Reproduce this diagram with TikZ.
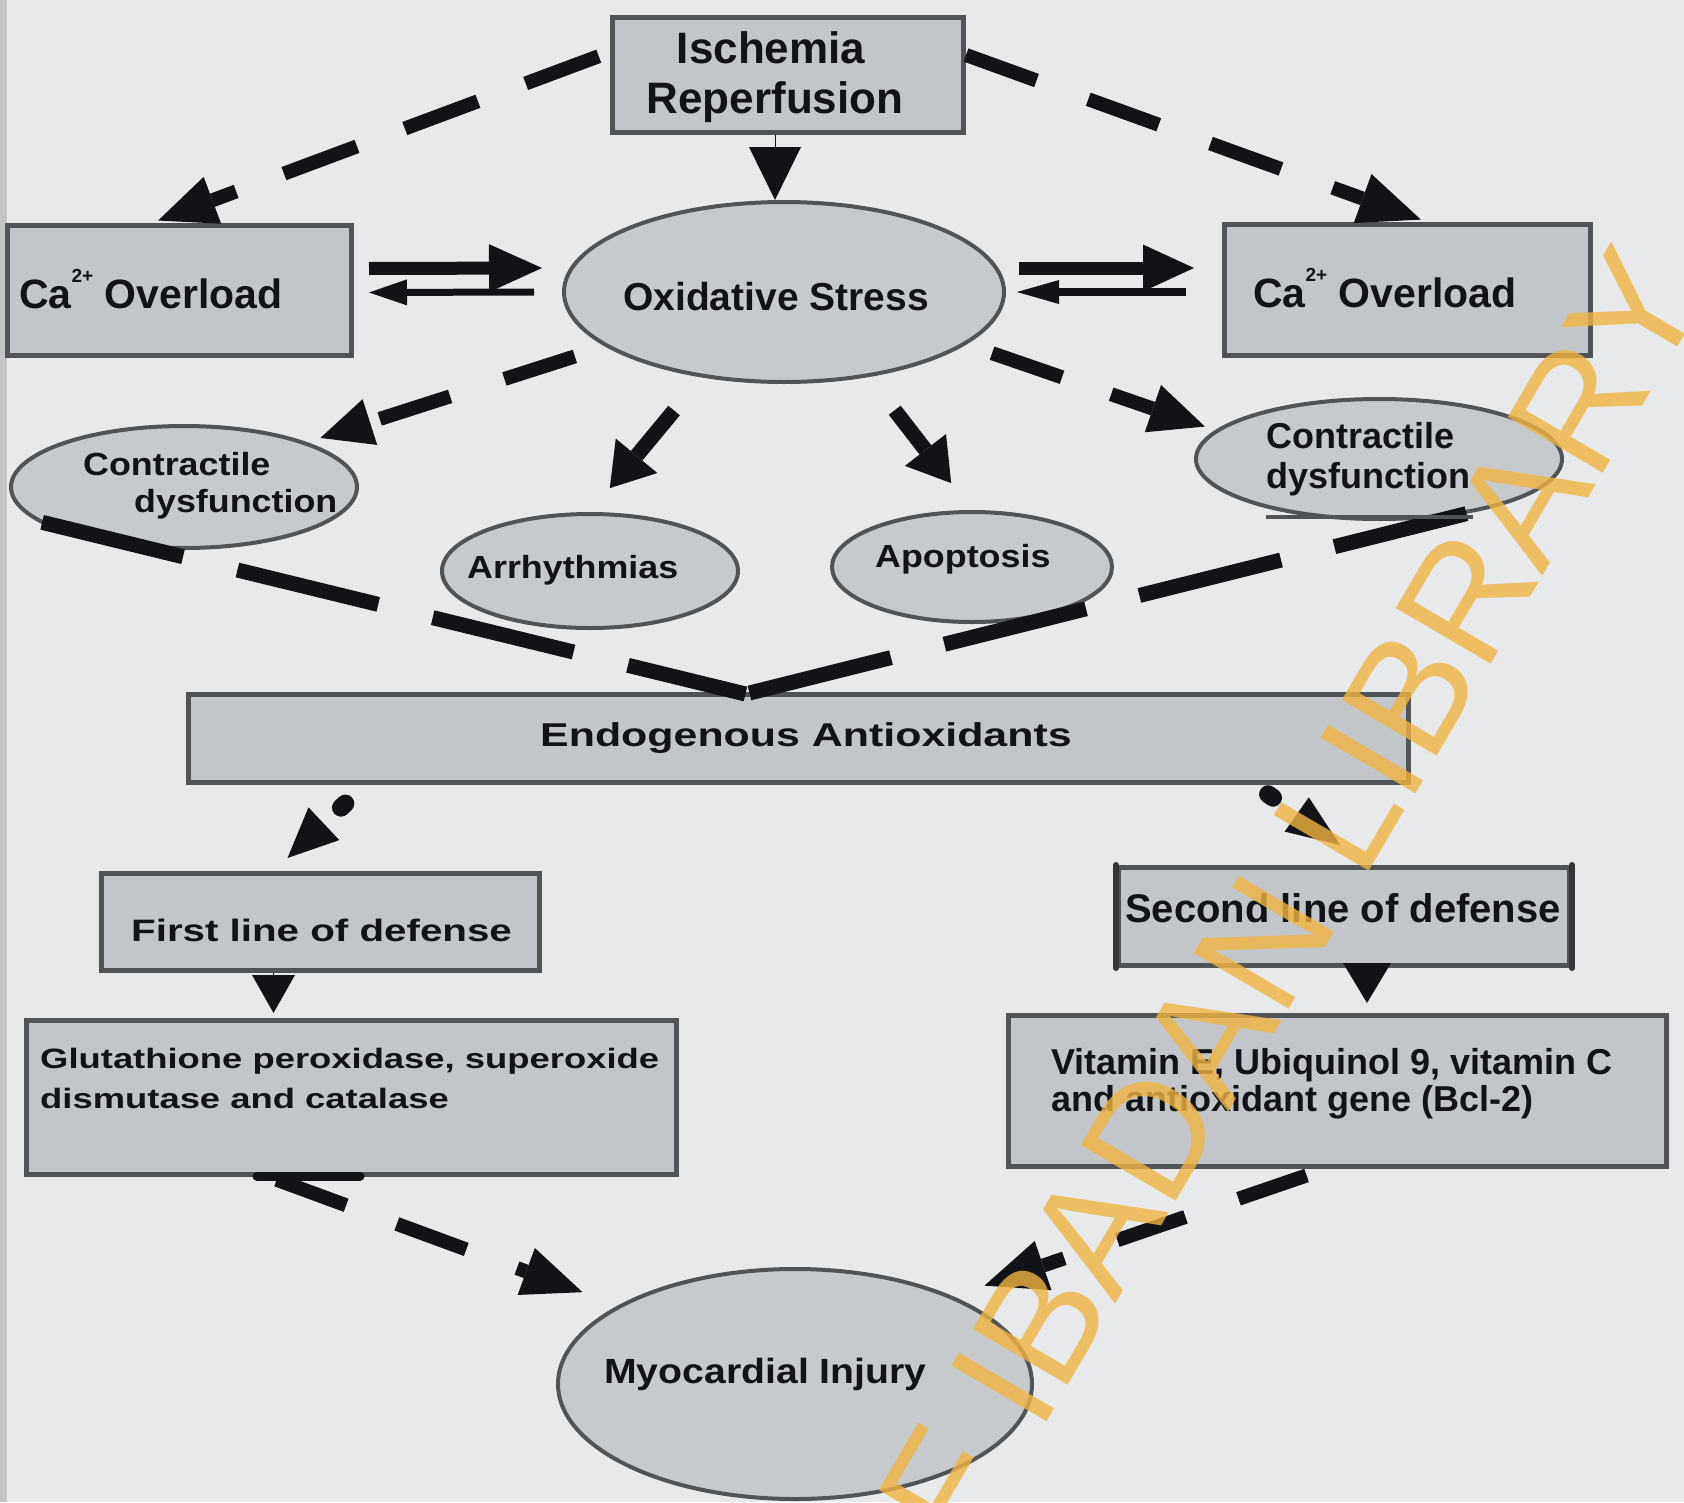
\documentclass[tikz,border=0pt]{standalone}
\usepackage{fontspec}
\setmainfont{Liberation Sans}
\newfontfamily\wideS{Liberation Sans}[FakeStretch=1.12]
\newfontfamily\wideL{Liberation Sans}[FakeStretch=1.3]
\usetikzlibrary{arrows.meta,calc,shapes.geometric}
\definecolor{bg}{HTML}{E7E9EA}
\definecolor{boxfill}{HTML}{C2C6CA}
\definecolor{ellfill}{HTML}{C7CACD}
\definecolor{edge}{HTML}{505457}
\definecolor{ink}{HTML}{111316}
\definecolor{wm}{HTML}{F0B440}
\definecolor{strip}{HTML}{C4C5C7}
\newcommand\fsz[2]{\fontsize{#1pt}{#2pt}\selectfont}
\newcommand\casup{\raisebox{0.62em}{\fontsize{19pt}{19pt}\selectfont 2+}}
\begin{document}
\begin{tikzpicture}[x=1pt,y=-1pt,
  box/.style={draw=edge,line width=5pt,fill=boxfill,rectangle,inner sep=0pt},
  ell/.style={draw=edge,line width=4pt,fill=ellfill,ellipse,inner sep=0pt},
  lbl/.style={text=ink,inner sep=0pt},
  dashA/.style={draw=ink,line width=14pt},
  solidA/.style={draw=ink,line width=15pt},
  vline/.style={draw=ink,line width=15pt},
  tri/.style={draw=ink,line width=1pt},
  dotA/.style={draw=ink,line width=18pt,line cap=round},
]
\useasboundingbox (0,0) rectangle (1684,1502);
\fill[bg] (0,0) rectangle (1684,1502);
\fill[strip] (0,0) rectangle (7,1502);

% ---------- nodes ----------
\node[box,minimum width=351pt,minimum height=115pt] (isch) at (788,75) {};
\node[ell,minimum width=440pt,minimum height=180pt] (ox) at (784,292) {};
\node[box,minimum width=344pt,minimum height=130pt] (lca) at (179.5,290.5) {};
\node[box,minimum width=366pt,minimum height=131pt] (rca) at (1407.5,290) {};
\node[ell,minimum width=346pt,minimum height=122pt] (lcd) at (184,487) {};
\node[ell,minimum width=366pt,minimum height=120pt] (rcd) at (1379,459) {};
\node[ell,minimum width=296pt,minimum height=114pt] (arr) at (590,571) {};
\node[ell,minimum width=280pt,minimum height=110pt] (apo) at (972,567) {};
\node[box,minimum width=1220pt,minimum height=88pt] (endo) at (798.5,738.5) {};
\node[box,minimum width=438pt,minimum height=97pt] (first) at (320.5,922) {};
\node[box,minimum width=451pt,minimum height=98pt] (second) at (1344,916.5) {};
\node[box,minimum width=650pt,minimum height=154pt] (glut) at (351.5,1097.5) {};
\node[box,minimum width=658pt,minimum height=151pt] (vit) at (1337.5,1091) {};
\node[ell,minimum width=474pt,minimum height=230pt] (myo) at (795,1384) {};

% darker sides of the second-line box
\draw[ink!85,line width=6pt,line cap=round] (second.north west) -- (second.south west);
\draw[ink!85,line width=6pt,line cap=round] (second.north east) -- (second.south east);

% ---------- texts ----------
\node[lbl,anchor=base,font=\bfseries\fsz{44}{49}] (isch1) at (771,63) {Ischemia};
\node[lbl,anchor=base,font=\bfseries\fsz{44}{49}] (isch2) at (775,113) {Reperfusion};
\node[lbl,anchor=base,font=\bfseries\fsz{39}{44}] (oxt) at (776,310) {Oxidative Stress};
\node[lbl,anchor=base west,font=\bfseries\fsz{41}{46}] (lcat) at (19,308) {Ca\casup\ Overload};
\node[lbl,anchor=base west,font=\bfseries\fsz{41}{46}] (rcat) at (1253,307) {Ca\casup\ Overload};
\node[lbl,anchor=base west,font=\wideS\bfseries\fsz{32}{36}] (lcd1) at (83,475) {Contractile};
\node[lbl,anchor=base west,font=\wideS\bfseries\fsz{32}{36}] (lcd2) at (134,512) {dysfunction};
\node[lbl,anchor=base west,font=\bfseries\fsz{36}{40}] (rcd1) at (1266,448) {Contractile};
\node[lbl,anchor=base west,font=\bfseries\fsz{36}{40}] (rcd2) at (1266,488) {dysfunction};
\node[lbl,anchor=base west,font=\wideS\bfseries\fsz{32}{36}] (arrt) at (467,578) {Arrhythmias};
\node[lbl,anchor=base west,font=\wideS\bfseries\fsz{32}{36}] (apot) at (875,567) {Apoptosis};
\node[lbl,anchor=base west,font=\wideL\bfseries\fsz{33}{36}] (endot) at (540,746) {Endogenous Antioxidants};
\node[lbl,anchor=base west,font=\wideL\bfseries\fsz{31}{36}] (firstt) at (131,941) {First line of defense};
\node[lbl,anchor=base west,font=\bfseries\fsz{40}{44}] (secondt) at (1125,922) {Second line of defense};
\node[lbl,anchor=base west,font=\wideL\bfseries\fsz{28}{36}] (glut1) at (40,1068) {Glutathione peroxidase, superoxide};
\node[lbl,anchor=base west,font=\wideL\bfseries\fsz{28}{36}] (glut2) at (40,1108) {dismutase and catalase};
\node[lbl,anchor=base west,font=\bfseries\fsz{36}{40}] (vit1) at (1051,1074) {Vitamin E, Ubiquinol 9, vitamin C};
\node[lbl,anchor=base west,font=\bfseries\fsz{36}{40}] (vit2) at (1051,1111) {and antioxidant gene (Bcl-2)};
\node[lbl,anchor=base west,font=\wideS\bfseries\fsz{35}{40}] (myot) at (604,1383) {Myocardial Injury};

% ---------- connectors ----------
% Ischemia -> Oxidative stress
\draw[tri,-{Triangle[length=53pt,width=52pt,line width=0pt]}] ($(isch.south)+(-13,0)$) -- ($(ox.north)+(-9,0)$);
% Ischemia -> Ca overload (left / right)
\draw[dashA,dash pattern=on 78pt off 51pt,dash phase=117pt,-{Triangle[length=58pt,width=50pt,line width=0pt]},shorten >=7pt]
  ($(isch.west)+(0,-23)$) -- ($(lca.north)+(-28,0)$);
\draw[dashA,dash pattern=on 75pt off 55pt,-{Triangle[length=62pt,width=52pt,line width=0pt]},shorten >=7pt]
  ($(isch.east)+(0,-20)$) -- ($(rca.north)+(20,0)$);
% Ca overload <-> Oxidative stress (left)
\draw[ink,line width=13pt,-{Triangle[length=53pt,width=48pt,line width=0pt]}] ($(lca.east)+(15,-22)$) -- ($(ox.west)+(-20,-24)$);
\draw[ink,line width=7pt,-{Triangle[length=38pt,width=26pt,line width=0pt]}] ($(ox.west)+(-28,0)$) -- ($(lca.east)+(15,2)$);
% Oxidative stress <-> Ca overload (right)
\draw[ink,line width=13pt,-{Triangle[length=51pt,width=47pt,line width=0pt]}] ($(ox.east)+(13,-24)$) -- ($(rca.west)+(-28,-22)$);
\draw[ink,line width=8pt,-{Triangle[length=42pt,width=24pt,line width=0pt]}] ($(rca.west)+(-36,2)$) -- ($(ox.east)+(11,0)$);
% Oxidative stress -> contractile dysfunction
\draw[dashA,dash pattern=on 74pt off 57pt,dash phase=99pt,-{Triangle[length=52pt,width=48pt,line width=0pt]},shorten >=14pt] (ox.197) -- (lcd.20);
\draw[dashA,dash pattern=on 74pt off 52pt,dash phase=99pt,-{Triangle[length=55pt,width=50pt,line width=0pt]},shorten >=11pt] (ox.-16) -- (rcd.170);
% Oxidative stress -> arrhythmias / apoptosis
\draw[solidA,-{Triangle[length=42pt,width=54pt,line width=0pt]},shorten <=43pt,shorten >=31pt] (ox.226) -- (arr.north);
\draw[solidA,-{Triangle[length=42pt,width=52pt,line width=0pt]},shorten <=42pt,shorten >=34pt] (ox.-45) -- (apo.north);
% contractile dysfunction -> endogenous antioxidants
\coordinate (apex) at ($(endo.north)+(-53,2)$);
\draw[vline,dash pattern=on 145pt off 56pt,dash phase=24pt] (apex) -- (lcd.193);
\draw[vline,dash pattern=on 146pt off 55pt,dash phase=197pt] (apex) -- (rcd.-32);
\draw[edge,line width=4pt] ($(rcd.south)+(-113,-4)$) -- ($(rcd.south)+(94,-4)$);
% endogenous antioxidants -> lines of defense
\draw[dotA,dash pattern=on 6pt off 200pt,dash phase=179pt,-{Triangle[length=50pt,width=45pt,line width=0pt]}]
  ($(endo.south west)+(179,0)$) -- ($(first.north)+(-33,-13)$);
\draw[dotA,dash pattern=on 6pt off 200pt,dash phase=190pt,-{Triangle[length=53pt,width=42pt,line width=0pt]}]
  ($(endo.south east)+(-156,0)$) -- ($(second.north)+(-4,-20)$);
% lines of defense -> agents
\draw[tri,-{Triangle[length=38pt,width=43pt,line width=0pt]}] ($(first.south)+(-47,0)$) -- ($(glut.north)+(-78,-5)$);
\draw[tri,-{Triangle[length=40pt,width=48pt,line width=0pt]}] ($(second.south)+(23,-5)$) -- ($(vit.north)+(29.5,-10)$);
% agents -> myocardial injury
\draw[ink,line width=9pt,line cap=round] ($(glut.south west)+(233,-1)$) -- ($(glut.south west)+(336,-1)$);
\draw[dashA,dash pattern=on 74pt off 54pt,dash phase=123pt,-{Triangle[length=60pt,width=50pt,line width=0pt]},shorten >=38pt]
  ($(glut.south west)+(248,1)$) -- (myo.156);
\draw[dashA,dash pattern=on 72pt off 56pt,dash phase=108pt,-{Triangle[length=62pt,width=52pt,line width=0pt]},shorten >=33pt]
  ($(vit.south)+(-12,0)$) -- (myo.29);

% ---------- watermark ----------
\begin{scope}
\clip (0,0) rectangle (1684,1502);
\node[text=wm,text opacity=0.8,inner sep=0pt,rotate=59.6,anchor=base west,font=\fsz{160}{170}] (wmark) at (1039,1435) {\llap{OF }IBADAN LIBRARY};
\end{scope}
\end{tikzpicture}
\end{document}
